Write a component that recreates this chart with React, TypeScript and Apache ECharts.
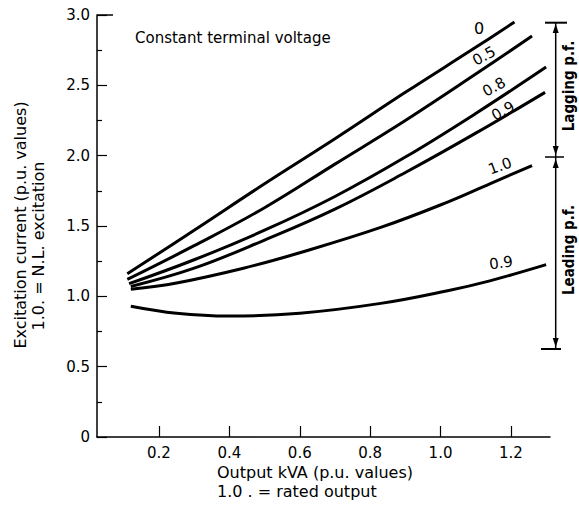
import React, { useEffect, useRef } from "react";
import * as echarts from "echarts";

// Output kVA (p.u.) vs excitation current (p.u.) for each power factor
const lag0: number[][] = [[0.11, 1.16], [0.3, 1.47], [0.5, 1.8], [0.7, 2.12], [0.9, 2.45], [1.1, 2.77], [1.21, 2.95]];
const lag05: number[][] = [[0.11, 1.12], [0.3, 1.36], [0.5, 1.63], [0.7, 1.94], [0.9, 2.25], [1.1, 2.58], [1.26, 2.85]];
const lag08: number[][] = [[0.115, 1.09], [0.3, 1.26], [0.5, 1.47], [0.7, 1.71], [0.9, 1.99], [1.1, 2.3], [1.3, 2.63]];
const lag09: number[][] = [[0.12, 1.07], [0.3, 1.2], [0.5, 1.4], [0.7, 1.62], [0.9, 1.88], [1.1, 2.16], [1.297, 2.45]];
const unity: number[][] = [[0.12, 1.05], [0.25, 1.095], [0.44, 1.2], [0.6, 1.31], [0.83, 1.49], [1.02, 1.67], [1.14, 1.8], [1.26, 1.93]];
const lead09: number[][] = [[0.12, 0.93], [0.25, 0.88], [0.4, 0.86], [0.6, 0.88], [0.83, 0.95], [1.02, 1.04], [1.14, 1.11], [1.3, 1.225]];

const xTicks = [0.2, 0.4, 0.6, 0.8, 1.0, 1.2];
const curveLabels = ["0", "0.5", "0.8", "0.9", "1.0", "0.9"];

const FONT = "DejaVu Sans";

export default function App() {
  const ref = useRef<HTMLDivElement>(null);
  useEffect(() => {
    if (!ref.current) return;
    const chart = echarts.init(ref.current, undefined, { renderer: "svg" });
    const series = [lag0, lag05, lag08, lag09, unity, lead09].map((d, i) => ({
      type: "line",
      name: curveLabels[i],
      data: d,
      smooth: 0.4,
      showSymbol: false,
      lineStyle: { color: "#000", width: 3 },
      silent: true,
    }));

    const txt = (text: string, x: number, y: number, rot: number, size = 15, extra: any = {}) => ({
      type: "text",
      x,
      y,
      rotation: rot,
      style: {
        text,
        fill: "#000",
        font: `${extra.weight || "normal"} ${size}px "${extra.family || FONT}"`,
        align: extra.align || "center",
        verticalAlign: "middle",
      },
    });

    const arrow = (x: number, tip: number, dir: number) => ({
      type: "polygon",
      shape: { points: [[x, tip], [x - 3, tip + dir * 9], [x + 3, tip + dir * 9]] },
      style: { fill: "#000" },
    });

    const ax = 555.7;
    const graphic: any[] = [
      txt("Constant terminal voltage", 135, 38, 0, 15, { align: "left" }),
      txt("Excitation current (p.u. values)", 20, 225, Math.PI / 2, 16),
      txt("1.0. = N.L. excitation", 38, 246, Math.PI / 2, 16),
      txt("Output kVA (p.u. values)", 217, 472, 0, 16, { align: "left" }),
      txt("1.0 . = rated output", 217, 491, 0, 16, { align: "left" }),
      txt(curveLabels[0], 479, 28, 0, 16),
      txt(curveLabels[1], 484, 56, 0.5, 15),
      txt(curveLabels[2], 494, 87, 0.5, 15),
      txt(curveLabels[3], 503, 111, 0.5, 15),
      txt(curveLabels[4], 500, 166, 0.35, 15),
      txt(curveLabels[5], 501, 263, 0.14, 15),
      { type: "line", shape: { x1: ax, y1: 22.7, x2: ax, y2: 349 }, style: { stroke: "#000", lineWidth: 1.5 } },
      { type: "line", shape: { x1: 545, y1: 22.7, x2: 567, y2: 22.7 }, style: { stroke: "#000", lineWidth: 2 } },
      { type: "line", shape: { x1: 545, y1: 157, x2: 564, y2: 157 }, style: { stroke: "#000", lineWidth: 1.5 } },
      { type: "line", shape: { x1: 541, y1: 349, x2: 561, y2: 349 }, style: { stroke: "#000", lineWidth: 2 } },
      { type: "line", shape: { x1: 97, y1: 15, x2: 113, y2: 15 }, style: { stroke: "#000", lineWidth: 1.5 } },
      arrow(ax, 24, 1),
      arrow(ax, 155, -1),
      arrow(ax, 159, 1),
      arrow(ax, 347, -1),
      txt("Lagging p.f.", 569, 86, Math.PI / 2, 15, { weight: "bold", family: "DejaVu Sans Condensed" }),
      txt("Leading p.f.", 569, 250, Math.PI / 2, 15, { weight: "bold", family: "DejaVu Sans Condensed" }),
    ];

    chart.setOption({
      animation: false,
      backgroundColor: "#fff",
      grid: { left: 97, right: 29, top: 15, bottom: 81 },
      xAxis: {
        type: "value",
        min: 0.0239,
        max: 1.311,
        axisLine: { lineStyle: { color: "#000", width: 1.5 } },
        axisTick: { show: true, inside: true, length: 11, customValues: xTicks, lineStyle: { color: "#000", width: 1.2 } },
        axisLabel: {
          customValues: xTicks,
          color: "#000",
          fontSize: 15,
          fontFamily: FONT,
          margin: 8,
          formatter: (v: number) => v.toFixed(1),
        },
        splitLine: { show: false },
      },
      yAxis: {
        type: "value",
        min: 0,
        max: 3,
        interval: 0.5,
        axisLine: { show: true, lineStyle: { color: "#000", width: 1.5 } },
        axisTick: { show: true, inside: true, length: 10, lineStyle: { color: "#000", width: 1.2 } },
        minorTick: { show: true, splitNumber: 2, length: 5, lineStyle: { color: "#000", width: 1.2 } },
        axisLabel: {
          color: "#000",
          fontSize: 15,
          fontFamily: FONT,
          margin: 7,
          formatter: (v: number) => (v === 0 ? "0" : v.toFixed(1)),
        },
        splitLine: { show: false },
        minorSplitLine: { show: false },
      },
      series,
      graphic,
    });
    return () => chart.dispose();
  }, []);
  return <div ref={ref} style={{ position: "fixed", left: 0, top: 0, width: 579, height: 518, background: "#fff" }} />;
}
